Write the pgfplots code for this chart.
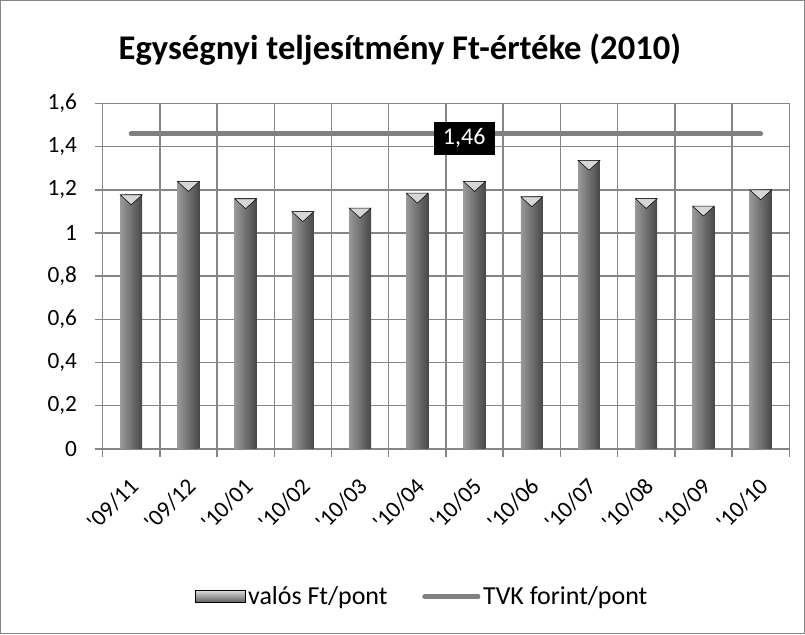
\documentclass[border=0pt]{standalone}
\usepackage{fontspec}
\setmainfont{Carlito}
\usepackage{pgfplots}
\pgfplotsset{compat=1.18}
\usetikzlibrary{calc}
\definecolor{gridgray}{HTML}{868686}
\definecolor{linegray}{HTML}{808080}
\pgfplotsset{cyl/.style={ybar, bar width=16.5pt, bar shift=0pt, draw=none, forget plot,
  left color=gray!80, middle color=gray!22, right color=black!72}}
\begin{document}
\begin{tikzpicture}
\begin{axis}[name=ax, scale only axis, width=516pt, height=259.5pt,
  xmin=0.5, xmax=12.5, ymin=0, ymax=1.6,
  xtick={0.5,1.5,...,12.5}, xticklabels={},
  extra x ticks={1,...,12},
  extra x tick labels={\textquotesingle09/11,\textquotesingle09/12,\textquotesingle10/01,\textquotesingle10/02,\textquotesingle10/03,\textquotesingle10/04,\textquotesingle10/05,\textquotesingle10/06,\textquotesingle10/07,\textquotesingle10/08,\textquotesingle10/09,\textquotesingle10/10},
  extra x tick style={major tick length=0pt, grid=none,
    xticklabel style={xshift=2.5pt, yshift=-25pt, rotate=45, anchor=east, inner sep=0pt}},
  ytick={0,0.2,...,1.6},
  /pgf/number format/use comma, /pgf/number format/assume math mode=true,
  grid=major, major grid style={gridgray, line width=1.1pt},
  axis line style={gridgray, line width=1.1pt},
  tick style={gridgray, line width=1.1pt}, tick align=outside, major tick length=6pt,
  xtick pos=bottom, ytick pos=left,
  tick label style={font=\fontsize{17.5}{21}\selectfont},
  yticklabel style={inner sep=0pt, xshift=-13pt},
  title={\bfseries\fontsize{26}{30}\selectfont Egységnyi teljesítmény Ft-értéke (2010)},
  title style={at={(0.433,1.133)}, anchor=center},
  legend columns=2,
  legend style={draw=none, at={(0.466,-0.428)}, anchor=center, font=\fontsize{19.5}{23}\selectfont,
    /tikz/every even column/.append style={column sep=24pt}},
  clip=false]
\addlegendimage{legend image code/.code={\fill[top color=gray!30, bottom color=black!65] (0pt,-4.5pt) rectangle (37.5pt,4.5pt);}}
\addlegendentry{valós Ft/pont}
\addplot[cyl] coordinates {(1,1.177)};
\addplot[cyl] coordinates {(2,1.239)};
\addplot[cyl] coordinates {(3,1.159)};
\addplot[cyl] coordinates {(4,1.099)};
\addplot[cyl] coordinates {(5,1.116)};
\addplot[cyl] coordinates {(6,1.185)};
\addplot[cyl] coordinates {(7,1.239)};
\addplot[cyl] coordinates {(8,1.168)};
\addplot[cyl] coordinates {(9,1.337)};
\addplot[cyl] coordinates {(10,1.160)};
\addplot[cyl] coordinates {(11,1.125)};
\addplot[cyl] coordinates {(12,1.200)};
\addplot[only marks, forget plot, mark=triangle*, mark size=9.5pt,
  mark options={draw=none, fill=gray!32, yshift=-2.5pt, yscale=-0.525}]
  coordinates {(1,1.177) (2,1.239) (3,1.159) (4,1.099) (5,1.116) (6,1.185) (7,1.239) (8,1.168) (9,1.337) (10,1.160) (11,1.125) (12,1.200)};
\addplot[linegray, line width=3.75pt, line cap=round,
  legend image code/.code={\draw[linegray, line width=3.75pt] (0pt,0pt) -- (40pt,0pt);}]
  coordinates {(1,1.46) (12,1.46)}
  node[pos=0.529, yshift=-3.4pt, fill=black, text=white, inner xsep=7pt, inner ysep=5pt, font=\fontsize{18}{22}\selectfont] {1,46};
\addlegendentry{TVK forint/pont}
\end{axis}
\draw[gridgray, line width=1.1pt] ($(ax.south west)+(-76.5pt,-138.75pt)$) rectangle ++(603.75pt,475.5pt);
\end{tikzpicture}
\end{document}
